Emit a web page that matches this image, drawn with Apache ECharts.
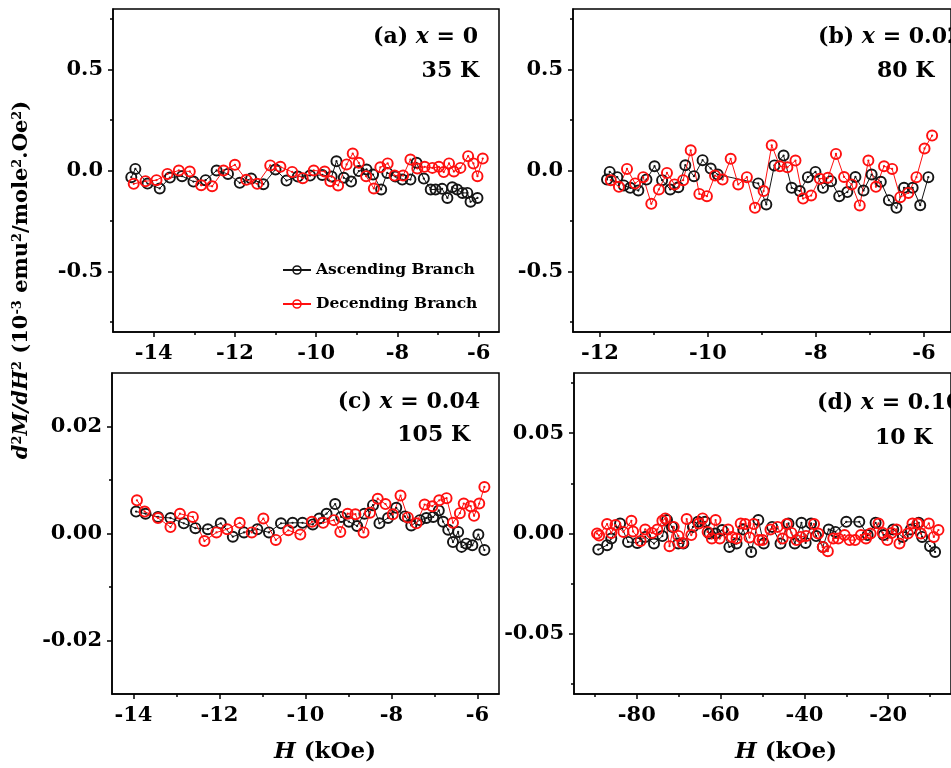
<!DOCTYPE html>
<html>
<head>
<meta charset="utf-8">
<script src="https://cdn.jsdelivr.net/npm/echarts@6/dist/echarts.min.js"></script>
<style>
  html, body { margin: 0; padding: 0; background: #fff; }
  #chart { width: 951px; height: 768px; }
</style>
</head>
<body>
<div id="chart"></div>
<script>
// ---- d2M/dH2 vs H, ascending and descending field branches ----

// (a) x = 0, 35 K
const ascA = [[-14.55,-0.033],[-14.45,0.008],[-14.15,-0.065],[-13.85,-0.089],[-13.6,-0.035],[-13.3,-0.028],[-13.02,-0.055],[-12.72,-0.048],[-12.45,0.0],[-12.17,-0.017],[-11.88,-0.061],[-11.6,-0.04],[-11.3,-0.068],[-11.0,0.005],[-10.73,-0.05],[-10.45,-0.03],[-10.15,-0.025],[-9.85,-0.022],[-9.62,-0.03],[-9.5,0.046],[-9.32,-0.036],[-9.14,-0.055],[-8.95,-0.003],[-8.76,0.005],[-8.6,-0.02],[-8.4,-0.094],[-8.25,-0.012],[-8.05,-0.03],[-7.88,-0.045],[-7.68,-0.045],[-7.53,0.038],[-7.35,-0.04],[-7.18,-0.094],[-7.06,-0.094],[-6.9,-0.091],[-6.77,-0.136],[-6.65,-0.083],[-6.53,-0.094],[-6.4,-0.111],[-6.28,-0.111],[-6.2,-0.155],[-6.03,-0.136]];
const descA = [[-14.49,-0.066],[-14.2,-0.053],[-13.93,-0.048],[-13.66,-0.017],[-13.38,0.0],[-13.11,-0.005],[-12.83,-0.073],[-12.56,-0.078],[-12.28,0.0],[-12.0,0.028],[-11.72,-0.046],[-11.45,-0.066],[-11.13,0.025],[-10.88,0.018],[-10.59,-0.007],[-10.33,-0.038],[-10.06,0.0],[-9.79,-0.005],[-9.65,-0.053],[-9.46,-0.074],[-9.25,0.03],[-9.1,0.084],[-8.95,0.038],[-8.77,-0.028],[-8.58,-0.089],[-8.42,0.016],[-8.24,0.035],[-8.07,-0.025],[-7.86,-0.025],[-7.68,0.054],[-7.51,0.01],[-7.33,0.018],[-7.14,0.013],[-6.98,0.018],[-6.86,-0.008],[-6.73,0.035],[-6.61,-0.005],[-6.45,0.013],[-6.26,0.071],[-6.13,0.035],[-6.03,-0.028],[-5.9,0.059]];

// (b) x = 0.02, 80 K
const ascB = [[-11.87,-0.045],[-11.82,-0.007],[-11.68,-0.033],[-11.56,-0.074],[-11.44,-0.086],[-11.29,-0.099],[-11.14,-0.045],[-10.99,0.021],[-10.85,-0.048],[-10.7,-0.094],[-10.55,-0.083],[-10.42,0.026],[-10.26,-0.028],[-10.1,0.051],[-9.95,0.01],[-9.82,-0.02],[-9.07,-0.064],[-8.92,-0.168],[-8.77,0.025],[-8.6,0.074],[-8.45,-0.086],[-8.3,-0.102],[-8.15,-0.033],[-8.01,-0.007],[-7.87,-0.086],[-7.72,-0.053],[-7.57,-0.127],[-7.42,-0.107],[-7.27,-0.032],[-7.12,-0.099],[-6.97,-0.02],[-6.8,-0.056],[-6.65,-0.147],[-6.51,-0.185],[-6.37,-0.086],[-6.21,-0.086],[-6.07,-0.172],[-5.92,-0.033]];
const descB = [[-11.8,-0.048],[-11.65,-0.081],[-11.5,0.008],[-11.35,-0.064],[-11.2,-0.033],[-11.05,-0.165],[-10.91,-0.094],[-10.76,-0.012],[-10.62,-0.069],[-10.46,-0.048],[-10.32,0.1],[-10.16,-0.116],[-10.02,-0.127],[-9.87,-0.025],[-9.73,-0.045],[-9.58,0.058],[-9.44,-0.069],[-9.28,-0.033],[-9.13,-0.185],[-8.97,-0.102],[-8.82,0.125],[-8.67,0.021],[-8.53,0.016],[-8.38,0.049],[-8.24,-0.139],[-8.09,-0.124],[-7.93,-0.041],[-7.78,-0.036],[-7.63,0.082],[-7.48,-0.032],[-7.34,-0.069],[-7.19,-0.173],[-7.03,0.049],[-6.89,-0.081],[-6.74,0.021],[-6.59,0.008],[-6.44,-0.132],[-6.29,-0.111],[-6.14,-0.033],[-5.99,0.109],[-5.85,0.173]];

// (c) x = 0.04, 105 K
const ascC = [[-13.94,0.0041],[-13.72,0.0037],[-13.43,0.0031],[-13.14,0.0029],[-12.83,0.0019],[-12.56,0.001],[-12.27,0.0008],[-11.97,0.0019],[-11.69,-0.0006],[-11.43,0.0002],[-11.12,0.0008],[-10.85,0.0002],[-10.57,0.0019],[-10.3,0.002],[-10.07,0.002],[-9.83,0.0017],[-9.68,0.0028],[-9.51,0.0037],[-9.31,0.0055],[-9.17,0.0031],[-8.99,0.0022],[-8.8,0.0014],[-8.63,0.0037],[-8.43,0.0053],[-8.28,0.0019],[-8.08,0.0029],[-7.89,0.0048],[-7.69,0.0032],[-7.54,0.0015],[-7.34,0.0025],[-7.19,0.0029],[-7.03,0.0031],[-6.9,0.0043],[-6.8,0.0022],[-6.68,0.0007],[-6.57,-0.0016],[-6.45,0.0003],[-6.37,-0.0025],[-6.26,-0.0019],[-6.12,-0.0022],[-5.98,-0.0002],[-5.84,-0.0031]];
const descC = [[-13.92,0.0062],[-13.74,0.0041],[-13.43,0.0029],[-13.14,0.0012],[-12.92,0.0037],[-12.62,0.0031],[-12.35,-0.0014],[-12.07,0.0002],[-11.82,0.0008],[-11.53,0.002],[-11.25,0.0002],[-10.98,0.0028],[-10.69,-0.0012],[-10.4,0.0006],[-10.12,-0.0002],[-9.85,0.0022],[-9.59,0.002],[-9.34,0.0025],[-9.19,0.0003],[-9.02,0.0037],[-8.84,0.0036],[-8.65,0.0002],[-8.5,0.0039],[-8.32,0.0065],[-8.14,0.0055],[-7.97,0.0036],[-7.79,0.0071],[-7.62,0.003],[-7.42,0.0019],[-7.23,0.0054],[-7.05,0.0051],[-6.89,0.0062],[-6.72,0.0066],[-6.57,0.002],[-6.41,0.0038],[-6.32,0.0056],[-6.16,0.0051],[-6.08,0.0033],[-5.96,0.0056],[-5.84,0.0087]];

// (d) x = 0.10, 10 K
const ascD = [[-89.2,-0.008],[-87.1,-0.0058],[-86.1,-0.0025],[-84.0,0.005],[-82.1,-0.0042],[-79.9,-0.0047],[-78.0,-0.0017],[-75.9,-0.005],[-73.9,-0.0013],[-72.8,0.0067],[-71.6,0.0033],[-70.1,-0.005],[-68.9,-0.005],[-66.6,0.0033],[-65.4,0.0058],[-63.7,0.0058],[-62.7,0.0],[-61.2,0.0],[-59.6,0.0017],[-57.9,-0.0067],[-56.2,-0.005],[-54.6,0.002],[-52.7,-0.0092],[-51.0,0.0067],[-49.7,-0.005],[-47.7,0.0033],[-45.7,-0.005],[-43.8,0.005],[-42.3,-0.005],[-40.7,0.0053],[-39.7,-0.0047],[-38.4,0.005],[-37.2,-0.0013],[-35.6,-0.0067],[-34.2,0.002],[-32.6,0.0008],[-30.0,0.0058],[-26.9,0.0058],[-24.9,-0.0008],[-23.0,0.0053],[-21.1,-0.0008],[-18.8,0.002],[-16.5,-0.0017],[-14.6,0.002],[-12.7,0.0053],[-11.9,-0.0017],[-10.0,-0.0063],[-8.8,-0.0092]];
const descD = [[-89.5,0.0],[-89.0,-0.001],[-87.1,0.0047],[-86.1,0.0003],[-85.1,0.0042],[-83.2,0.0008],[-81.3,0.0063],[-80.9,0.001],[-79.1,-0.0037],[-78.0,0.002],[-76.4,0.0003],[-75.1,0.002],[-73.9,0.0063],[-73.2,0.0075],[-72.2,-0.0063],[-71.2,0.0033],[-70.1,-0.0012],[-69.1,-0.0047],[-68.1,0.0072],[-67.0,-0.0008],[-65.2,0.005],[-64.3,0.0075],[-63.1,0.0008],[-62.1,-0.0025],[-61.2,0.0067],[-60.2,-0.0025],[-58.2,0.002],[-57.3,-0.0017],[-56.2,-0.0025],[-55.2,0.005],[-54.1,0.0047],[-53.1,-0.002],[-52.1,0.0047],[-50.8,-0.0033],[-50.0,-0.0033],[-48.1,0.002],[-46.4,0.0033],[-45.2,-0.0025],[-44.2,0.0047],[-43.1,0.0003],[-41.9,-0.0033],[-40.9,-0.0017],[-39.6,-0.0012],[-37.7,0.0047],[-36.7,0.0],[-35.6,-0.0067],[-34.4,-0.0088],[-33.1,-0.0025],[-31.9,-0.0025],[-30.4,-0.0008],[-29.2,-0.0033],[-27.9,-0.0033],[-26.5,-0.0008],[-25.3,-0.0025],[-24.2,0.0],[-22.3,0.005],[-21.3,0.0003],[-20.2,-0.0033],[-19.2,0.0003],[-18.0,0.002],[-17.3,-0.005],[-15.3,0.0],[-14.2,0.005],[-13.0,0.005],[-12.2,0.0],[-10.3,0.005],[-9.1,-0.0017],[-8.0,0.0017]];

// axis ranges and tick positions per panel
const xRanges = [[-15, -5.5], [-12.5, -5.5], [-14.5, -5.5], [-95, -5]];
const xMajorTicks = [[-14,-12,-10,-8,-6], [-12,-10,-8,-6], [-14,-12,-10,-8,-6], [-80,-60,-40,-20]];
const xMinorTicks = [[-13,-11,-9,-7], [-11,-9,-7], [-13,-11,-9,-7], [-90,-70,-50,-30,-10]];
const yRanges = [[-0.8, 0.8], [-0.8, 0.8], [-0.03, 0.03], [-0.08, 0.08]];
const yMajorTicks = [[-0.5,0,0.5], [-0.5,0,0.5], [-0.02,0,0.02], [-0.05,0,0.05]];
const yMinorTicks = [[-0.75,-0.25,0.25,0.75], [-0.75,-0.25,0.25,0.75], [-0.01,0.01], [-0.075,-0.025,0.025,0.075]];
const yDigits = [1, 1, 2, 2];

const panelTags = ['(a) ', '(b) ', '(c) ', '(d) '];
const panelX = ['0', '0.02', '0.04', '0.10'];
const panelTemps = ['35 K', '80 K', '105 K', '10 K'];
const seriesNames = ['Ascending Branch', 'Decending Branch'];

const ascSets = [ascA, ascB, ascC, ascD];
const descSets = [descA, descB, descC, descD];

const FONT = '"DejaVu Serif", "Liberation Serif", serif';
const INK = '#151515';
const RED = '#ff1010';
// open circle with a dot in the centre
const RING_DOT = 'path://M10,0A10,10,0,1,1,10,20A10,10,0,1,1,10,0Z' +
  'M10,3.2A6.8,6.8,0,1,0,10,16.8A6.8,6.8,0,1,0,10,3.2Z' +
  'M10,8.1A1.9,1.9,0,1,1,10,11.9A1.9,1.9,0,1,1,10,8.1Z';

const grids = [
  { left: 113, top: 9,   width: 386, height: 323 },
  { left: 573, top: 9,   width: 389, height: 323 },
  { left: 112, top: 373, width: 387, height: 321 },
  { left: 574, top: 373, width: 390, height: 321 }
];

const xAxes = [], yAxes = [], series = [];
const lineCol = { color: '#000', width: 1.5 };

grids.forEach((g, i) => {
  Object.assign(g, { show: true, borderColor: '#000', borderWidth: 1.5, containLabel: false });
  const labelStyle = { color: '#000', fontFamily: FONT, fontWeight: 'bold', fontSize: 21 };
  xAxes.push({
    type: 'value', gridIndex: i, position: 'bottom', min: xRanges[i][0], max: xRanges[i][1],
    axisLine: { show: true, onZero: false, lineStyle: lineCol },
    axisTick: { show: true, inside: false, length: 5, customValues: xMajorTicks[i], lineStyle: lineCol },
    axisLabel: Object.assign({ customValues: xMajorTicks[i], margin: 11, formatter: v => String(v) }, labelStyle),
    splitLine: { show: false }
  });
  xAxes.push({
    type: 'value', gridIndex: i, position: 'bottom', min: xRanges[i][0], max: xRanges[i][1],
    axisLine: { show: false, onZero: false },
    axisTick: { show: true, inside: false, length: 3, customValues: xMinorTicks[i], lineStyle: lineCol },
    axisLabel: { show: false }, splitLine: { show: false }
  });
  yAxes.push({
    type: 'value', gridIndex: i, position: 'left', min: yRanges[i][0], max: yRanges[i][1],
    axisLine: { show: true, onZero: false, lineStyle: lineCol },
    axisTick: { show: true, inside: false, length: 5, customValues: yMajorTicks[i], lineStyle: lineCol },
    axisLabel: Object.assign({ customValues: yMajorTicks[i], margin: 10, formatter: v => v.toFixed(yDigits[i]) }, labelStyle),
    splitLine: { show: false }
  });
  yAxes.push({
    type: 'value', gridIndex: i, position: 'left', min: yRanges[i][0], max: yRanges[i][1],
    axisLine: { show: false, onZero: false },
    axisTick: { show: true, inside: false, length: 3, customValues: yMinorTicks[i], lineStyle: lineCol },
    axisLabel: { show: false }, splitLine: { show: false }
  });

  [[ascSets[i], INK, seriesNames[0]], [descSets[i], RED, seriesNames[1]]].forEach(([data, col, name]) => {
    series.push({
      type: 'line', name: name, data: data,
      xAxisIndex: 2 * i, yAxisIndex: 2 * i,
      symbol: RING_DOT, symbolSize: 12, showSymbol: true,
      lineStyle: { color: col, width: 1 },
      itemStyle: { color: col, borderWidth: 0 },
      emphasis: { disabled: true },
      animation: false
    });
  });
});

// panel captions
const titleBox = [
  { x: 478, y: 37,  align: 'right', tx: 479, ty: 71 },
  { x: 818, y: 37,  align: 'left',  tx: 877, ty: 71 },
  { x: 480, y: 402, align: 'right', tx: 470, ty: 435 },
  { x: 817, y: 403, align: 'left',  tx: 875, ty: 438 }
];
const rn = { fontFamily: FONT, fontWeight: 'bold', fontSize: 22, fill: '#000' };
const ri = { fontFamily: FONT, fontWeight: 'bold', fontStyle: 'italic', fontSize: 22, fill: '#000' };
const graphics = [];
titleBox.forEach((t, i) => {
  graphics.push({
    type: 'text', x: t.x, y: t.y, silent: true,
    style: { text: '{n|' + panelTags[i] + '}{i|x}{n| = ' + panelX[i] + '}', align: t.align, verticalAlign: 'middle', rich: { n: rn, i: ri } }
  });
  graphics.push({
    type: 'text', x: t.tx, y: t.ty, silent: true,
    style: { text: panelTemps[i], align: t.align, verticalAlign: 'middle', fontFamily: FONT, fontWeight: 'bold', fontSize: 22, fill: '#000' }
  });
});

// shared y-axis title
const sup = { fontFamily: FONT, fontWeight: 'bold', fontSize: 13, fill: '#000', verticalAlign: 'top' };
const yn = { fontFamily: FONT, fontWeight: 'bold', fontSize: 21, fill: '#000' };
const yi = { fontFamily: FONT, fontWeight: 'bold', fontStyle: 'italic', fontSize: 21, fill: '#000' };
graphics.push({
  type: 'text', x: 22, y: 280, rotation: Math.PI / 2, silent: true,
  style: {
    text: '{i|d}{s|2}{i|M/dH}{s|2}{n| (10}{s|-3}{n| emu}{s|2}{n|/mole}{s|2}{n|.Oe}{s|2}{n|)}',
    align: 'center', verticalAlign: 'middle', rich: { i: yi, n: yn, s: sup }
  }
});

// x-axis titles under the bottom panels
[325, 786].forEach(cx => {
  graphics.push({
    type: 'text', x: cx, y: 752, silent: true,
    style: { text: '{i|H}{n| (kOe)}', align: 'center', verticalAlign: 'middle',
      rich: { i: Object.assign({}, yi, { fontSize: 23 }), n: Object.assign({}, yn, { fontSize: 23 }) } }
  });
});

const chart = echarts.init(document.getElementById('chart'), null, { renderer: 'canvas' });
chart.setOption({
  backgroundColor: '#fff',
  animation: false,
  grid: grids,
  xAxis: xAxes,
  yAxis: yAxes,
  legend: {
    show: true, orient: 'vertical', left: 282, top: 262, padding: 0,
    itemWidth: 28, itemHeight: 12, itemGap: 18, selectedMode: false,
    data: seriesNames,
    textStyle: { fontFamily: FONT, fontWeight: 'bold', fontSize: 15.5, color: '#000' }
  },
  series: series,
  graphic: graphics
});
</script>
</body>
</html>
